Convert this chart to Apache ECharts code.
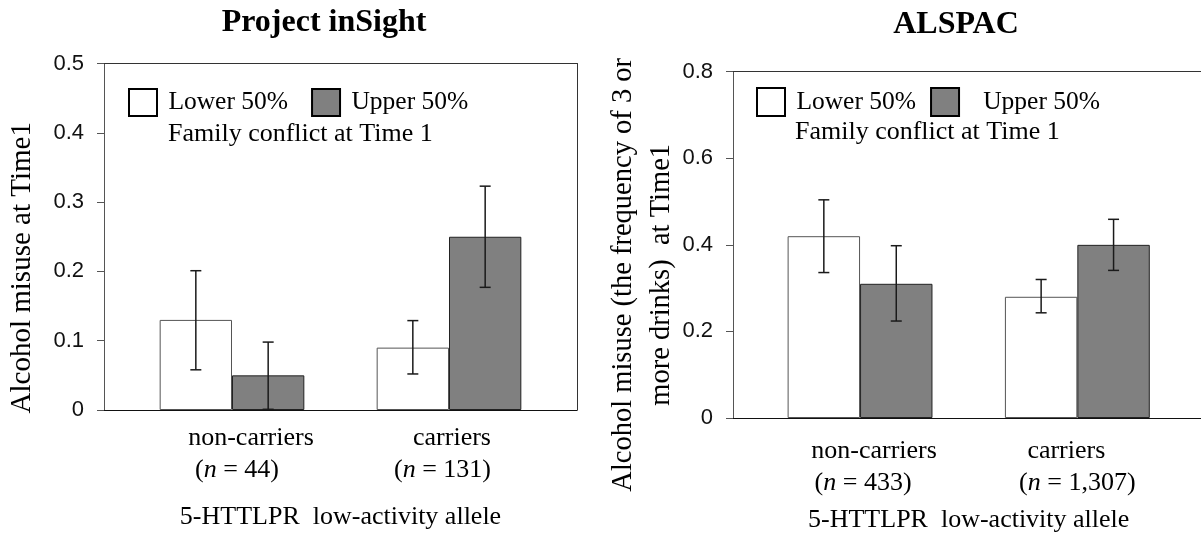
<!DOCTYPE html>
<html><head><meta charset="utf-8">
<script src="https://cdn.jsdelivr.net/npm/echarts@6/dist/echarts.min.js"></script>
<style>html,body{margin:0;padding:0;background:#fff}#c{width:1201px;height:544px}</style>
</head><body><div id="c"></div>
<script>
// ---------------- data ----------------
const categories = ['non-carriers', 'carriers'];
const nInsight = ['44', '131'];
const nAlspac = ['433', '1,307'];
const seriesNames = ['Lower 50%', 'Upper 50%'];

// Project inSight
const insightLower = [0.13, 0.09];
const insightUpper = [0.05, 0.25];
const insightLowerErrLo = [0.058, 0.052];
const insightLowerErrHi = [0.201, 0.129];
const insightUpperErrLo = [0.001, 0.177];
const insightUpperErrHi = [0.098, 0.323];
const insightYMax = 0.5, insightYStep = 0.1;

// ALSPAC
const alspacLower = [0.42, 0.28];
const alspacUpper = [0.31, 0.40];
const alspacLowerErrLo = [0.336, 0.243];
const alspacLowerErrHi = [0.504, 0.320];
const alspacUpperErrLo = [0.224, 0.341];
const alspacUpperErrHi = [0.398, 0.459];
const alspacYMax = 0.8, alspacYStep = 0.2;

// ---------------- helpers ----------------
const SERIF = 'Liberation Serif';
const SANS = 'Liberation Sans';

function errData(lo, hi) { return lo.map((v, i) => [i, v, hi[i]]); }

function errorBars(sign) {
  return function (params, api) {
    const c = api.value(0);
    const pLo = api.coord([c, api.value(1)]);
    const pHi = api.coord([c, api.value(2)]);
    const band = api.size([1, 0])[0];
    const x = pLo[0] + sign * band / 6;
    const cap = 5.5;
    const style = { stroke: '#1a1a1a', lineWidth: 1.5 };
    return { type: 'group', children: [
      { type: 'line', shape: { x1: x, y1: pLo[1], x2: x, y2: pHi[1] }, style: style },
      { type: 'line', shape: { x1: x - cap, y1: pHi[1], x2: x + cap, y2: pHi[1] }, style: style },
      { type: 'line', shape: { x1: x - cap, y1: pLo[1], x2: x + cap, y2: pLo[1] }, style: style }
    ] };
  };
}

function catFormatter(nArr) {
  return function (value, index) {
    return '{a' + index + '|' + value + '}\n{s' + index + '|(}{i|n}{e' + index + '| = ' + nArr[index] + ')}';
  };
}

function richFor(pads) {
  const base = { fontFamily: SERIF, fontSize: 26, color: '#000', lineHeight: 32 };
  const r = { i: Object.assign({}, base, { fontStyle: 'italic' }) };
  ['a0', 'a1', 's0', 's1', 'e0', 'e1'].forEach(k => {
    r[k] = Object.assign({}, base, { padding: pads[k] || [0, 0, 0, 0] });
  });
  return r;
}

function frameX(grid, pos, color) {
  return { gridIndex: grid, type: 'value', min: 0, max: 1, position: pos,
    axisLine: { show: true, onZero: false, lineStyle: { color: color, width: 1 } },
    axisTick: { show: false }, axisLabel: { show: false }, splitLine: { show: false } };
}

function hiddenY(grid, max) {
  return { gridIndex: grid, type: 'value', min: 0, max: max, show: false, splitLine: { show: false } };
}

function tickY(grid, max, step, name, nameGap, padRight, nameLineHeight, nameSize) {
  return { gridIndex: grid, type: 'value', min: 0, max: max, interval: step, position: 'left',
    axisLine: { show: true, onZero: false, lineStyle: { color: '#555', width: 1 } },
    axisTick: { show: true, inside: false, length: 7, lineStyle: { color: '#555' } },
    axisLabel: { margin: 20, fontFamily: SANS, fontSize: 22, color: '#111' },
    splitLine: { show: false },
    name: name, nameLocation: 'middle', nameGap: nameGap, nameRotate: 90, nameMoveOverlap: false,
    nameTextStyle: { fontFamily: SERIF, fontSize: nameSize, color: '#000', lineHeight: nameLineHeight,
      padding: [0, padRight, 0, 0] } };
}

function catX(grid, nArr, pads, margin, nameGap) {
  return { gridIndex: grid, type: 'category', data: categories,
    axisLine: { show: false }, axisTick: { show: false }, splitLine: { show: false },
    axisLabel: { margin: margin, interval: 0, formatter: catFormatter(nArr), rich: richFor(pads) },
    name: '5-HTTLPR  low-activity allele', nameLocation: 'middle', nameGap: nameGap, nameMoveOverlap: false,
    nameTextStyle: { fontFamily: SERIF, fontSize: 26, color: '#000' } };
}

function bars(name, data, xi, yi, color, border) {
  return { type: 'bar', name: name, xAxisIndex: xi, yAxisIndex: yi, data: data,
    barWidth: '33.333%', barGap: '0%',
    itemStyle: { color: color, borderColor: border, borderWidth: 1 } };
}

function errs(name, lo, hi, xi, yi, sign) {
  return { type: 'custom', name: name, xAxisIndex: xi, yAxisIndex: yi, z: 10,
    data: errData(lo, hi), encode: { x: 0, y: [1, 2] }, renderItem: errorBars(sign) };
}

const legendData = [
  { name: seriesNames[0], itemStyle: { color: '#fff', borderColor: '#000', borderWidth: 2 } },
  { name: seriesNames[1], itemStyle: { color: '#808080', borderColor: '#000', borderWidth: 2 } }
];

const option = {
  animation: false,
  backgroundColor: '#fff',
  title: [
    { text: 'Project inSight', left: 324, top: 7, textAlign: 'center', padding: 0,
      textStyle: { fontFamily: SERIF, fontWeight: 'bold', fontSize: 32, color: '#000' } },
    { text: 'ALSPAC', left: 956, top: 9, textAlign: 'center', padding: 0,
      textStyle: { fontFamily: SERIF, fontWeight: 'bold', fontSize: 32, color: '#000' } },
    { text: 'Family conflict at Time 1', left: 168, top: 121, padding: 0,
      textStyle: { fontFamily: SERIF, fontWeight: 'normal', fontSize: 26, color: '#000' } },
    { text: 'Family conflict at Time 1', left: 795, top: 119, padding: 0,
      textStyle: { fontFamily: SERIF, fontWeight: 'normal', fontSize: 26, color: '#000' } }
  ],
  legend: [
    { left: 128, top: 88, padding: 0, orient: 'horizontal', itemWidth: 28, itemHeight: 27, itemGap: 23,
      icon: 'rect', data: legendData, selectedMode: false,
      formatter: n => ' ' + n,
      textStyle: { fontFamily: SERIF, fontSize: 25.5, color: '#000' } },
    { left: 756, top: 87, padding: 0, orient: 'horizontal', itemWidth: 28, itemHeight: 28, itemGap: 14,
      icon: 'rect', data: legendData, selectedMode: false,
      formatter: n => (n === seriesNames[1] ? '   ' : ' ') + n,
      textStyle: { fontFamily: SERIF, fontSize: 25.5, color: '#000' } }
  ],
  grid: [
    { left: 104, top: 63.5, width: 473, height: 346.5, outerBoundsMode: 'none', containLabel: false },
    { left: 123.5, top: 63.5, width: 434, height: 346.5, outerBoundsMode: 'none', containLabel: false },
    { left: 733, top: 71.7, width: 471, height: 346.3, outerBoundsMode: 'none', containLabel: false },
    { left: 751.4, top: 71.7, width: 434.6, height: 346.3, outerBoundsMode: 'none', containLabel: false }
  ],
  xAxis: [
    frameX(0, 'bottom', '#111'),
    frameX(0, 'top', '#333'),
    catX(1, nInsight, { a0: [0, 0, 0, 38], a1: [0, 0, 0, 6], s0: [0, 0, 0, 10], e1: [0, 13, 0, 0] }, 12, 94),
    frameX(2, 'bottom', '#111'),
    frameX(2, 'top', '#333'),
    catX(3, nAlspac, { a0: [0, 0, 0, 28], a1: [0, 22, 0, 0], s0: [0, 0, 0, 6] }, 17, 89)
  ],
  yAxis: [
    tickY(0, insightYMax, insightYStep, 'Alcohol misuse at Time1', 65, 62, 34, 29),
    { gridIndex: 0, type: 'value', min: 0, max: insightYMax, position: 'right',
      axisLine: { show: true, onZero: false, lineStyle: { color: '#333', width: 1 } },
      axisTick: { show: false }, axisLabel: { show: false }, splitLine: { show: false } },
    hiddenY(1, insightYMax),
    tickY(2, alspacYMax, alspacYStep, 'Alcohol misuse (the frequency of 3 or\nmore drinks)  at Time1', 52, 60, 38, 28.5),
    hiddenY(3, alspacYMax)
  ],
  series: [
    bars(seriesNames[0], insightLower, 2, 2, '#ffffff', '#555'),
    bars(seriesNames[1], insightUpper, 2, 2, '#808080', '#222'),
    errs('err-ins-lower', insightLowerErrLo, insightLowerErrHi, 2, 2, -1),
    errs('err-ins-upper', insightUpperErrLo, insightUpperErrHi, 2, 2, 1),
    bars(seriesNames[0], alspacLower, 5, 4, '#ffffff', '#555'),
    bars(seriesNames[1], alspacUpper, 5, 4, '#808080', '#222'),
    errs('err-als-lower', alspacLowerErrLo, alspacLowerErrHi, 5, 4, -1),
    errs('err-als-upper', alspacUpperErrLo, alspacUpperErrHi, 5, 4, 1)
  ]
};

const chart = echarts.init(document.getElementById('c'), null, { renderer: 'canvas' });
chart.setOption(option);
</script>
</body></html>
